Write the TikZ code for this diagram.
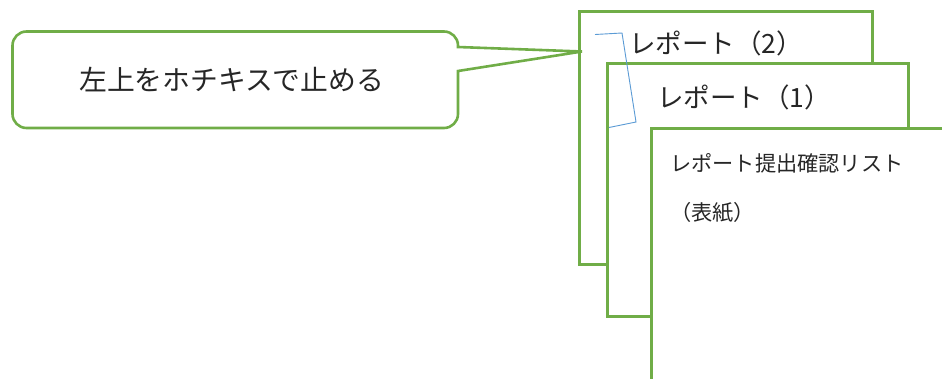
\documentclass[tikz,border=0pt]{standalone}
\usepackage{fontspec}
\newfontfamily\jp{Noto Sans CJK JP}
\definecolor{pgreen}{HTML}{70AD47}
\definecolor{pblue}{HTML}{5B9BD5}
\begin{document}
\begin{tikzpicture}[x=1pt,y=-1pt,
  page/.style={draw=pgreen, line width=2.6pt, fill=white, anchor=north west, inner sep=0pt},
  bigtxt/.style={font=\jp\fontsize{26.5}{30}\selectfont, anchor=west, inner sep=0pt, text=black!85},
  msgtxt/.style={font=\jp\fontsize{27.8}{32}\selectfont, anchor=west, inner sep=0pt, text=black!85},
  smalltxt/.style={font=\jp\fontsize{21.2}{24}\selectfont, anchor=west, inner sep=0pt, text=black!85},
  callline/.style={draw=pgreen, line width=2.6pt, line join=miter}]
\useasboundingbox (0,0) rectangle (942,378);
\clip (0,0) rectangle (942,378);
% pages
\node[page, minimum width=293pt, minimum height=253pt] (p2) at (578,10) {};
\node[page, minimum width=301pt, minimum height=253pt] (p1) at (606,62) {};
\node[page, minimum width=400pt, minimum height=320pt] (cover) at (650,127) {};
% page texts
\node[bigtxt] (t2) at (629,43) {レポート（2）};
\node[bigtxt] (t1) at (657,97) {レポート（1）};
\node[smalltxt] (tc) at (670,163) {レポート提出確認リスト};
\node[smalltxt] (tk) at (670,212) {（表紙）};
% staple bracket
\draw[pblue, line width=0.9pt] (595,34.5) -- (622,33) -- (636,122) -- (609,127.5);
% callout
\coordinate (tip) at (582,51.5);
\draw[callline] (tip) -- (458,71) [rounded corners=14pt] -- (458,128) -- (12.5,128) -- (12.5,31.5) -- (458,31.5) [sharp corners] -- (458,47) -- cycle;
\node[msgtxt] (msg) at (79,80) {左上をホチキスで止める};
\end{tikzpicture}
\end{document}
